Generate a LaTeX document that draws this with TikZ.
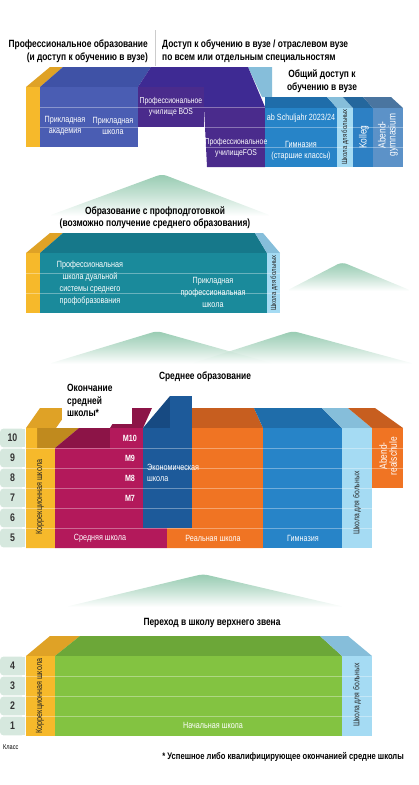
\documentclass[tikz,border=0pt]{standalone}
\usepackage{fontspec}
\setmainfont{Liberation Sans}[FakeStretch=0.8]

\definecolor{gelb}{HTML}{F6B92B}
\definecolor{gelbtop}{HTML}{DFA226}
\definecolor{gelbdark}{HTML}{C08A1E}
\definecolor{fachblau}{HTML}{4A5DB3}
\definecolor{fachtop}{HTML}{3F52A6}
\definecolor{lila}{HTML}{4A2B8C}
\definecolor{lilatop}{HTML}{3E2A93}
\definecolor{gymblau}{HTML}{2784C8}
\definecolor{gymtop}{HTML}{1F6DAA}
\definecolor{hellblau}{HTML}{A5DBF3}
\definecolor{hellblautop}{HTML}{86BEDA}
\definecolor{kollegc}{HTML}{2D80C4}
\definecolor{abendgymc}{HTML}{5C92C8}
\definecolor{petrol}{HTML}{1A8A9B}
\definecolor{petroltop}{HTML}{16788A}
\definecolor{mittel}{HTML}{B3195B}
\definecolor{mitteltop}{HTML}{8C1447}
\definecolor{wirt}{HTML}{1D5A9A}
\definecolor{wirttop}{HTML}{174A82}
\definecolor{real}{HTML}{F07423}
\definecolor{realtop}{HTML}{C75E1F}
\definecolor{gruen}{HTML}{83C341}
\definecolor{gruentop}{HTML}{6CA738}
\definecolor{tabc}{HTML}{D6E8DE}
\definecolor{bergc}{HTML}{7DBE9E}

\tikzset{
  lbl/.style={text=white, font=\fontsize{9}{10.5}\selectfont, align=center, inner sep=0pt},
  hdr/.style={font=\fontsize{10.5}{12.5}\selectfont\bfseries, align=center, inner sep=0pt},
  vlbl/.style={rotate=90, text=black!85, font=\fontsize{8.5}{10}\selectfont, inner sep=0pt},
  vwhite/.style={rotate=90, text=white, font=\fontsize{10.5}{10}\selectfont, align=center, inner sep=0pt},
  mlbl/.style={text=white, font=\fontsize{9}{10}\selectfont\bfseries, inner sep=0pt},
  rowline/.style={white, opacity=0.35, line width=0.6pt},
  gradenum/.style={text=black!80, font=\fontsize{11}{12}\selectfont\bfseries, inner sep=0pt},
  berg/.style={top color=bergc, bottom color=white, middle color=bergc!55, rounded corners=5pt, opacity=0.8},
}

\newcommand{\gradetab}[3]{%
  \fill[tabc, rounded corners=3.5pt] (0,#2+0.6) rectangle (25,#2+19.4);
  \fill[tabc] (15,#2+0.6) rectangle (25,#2+19.4);
  \node[gradenum] (#1) at (12.5,#2+10) {#3};
}

\begin{document}
\begin{tikzpicture}[x=1pt, y=-1pt]
    \useasboundingbox (0,0) rectangle (418,785);

    % headers
    \node[hdr, anchor=east, align=right] (proftitle) at (148,51) {Профессиональное образование\\(и доступ к обучению в вузе)};
    \draw[black!20] (155,30) -- (155,66);
    \node[hdr, anchor=west, align=left] (hstitle) at (162,51) {Доступ к обучению в вузе / отраслевом вузе\\по всем или отдельным специальностям};

    % upper level
    \fill[hellblautop] (248,67) -- (272,67) -- (272,97) -- (262,97) -- cycle;
    \fill[gelbtop] (26,87) -- (50,67) -- (63,67) -- (40,87) -- cycle;
    \fill[fachtop] (40,87) -- (63,67) -- (151,67) -- (138,87) -- cycle;
    \fill[lilatop] (138,87) -- (151,67) -- (248,67) -- (265,107) -- (204,107) -- (204,87) -- cycle;
    \fill[gelb] (26,87) rectangle (40,147);
    \fill[fachblau] (40,87) rectangle (138,147);
    \fill[lila] (138,87) rectangle (204,127);
    \fill[lila] (204,107) -- (265,107) -- (265,167) -- (207,167) -- cycle;
    \fill[gymtop] (265,97) -- (327,97) -- (337,108) -- (265,108) -- cycle;
    \fill[hellblautop] (327,97) -- (343,97) -- (353,108) -- (337,108) -- cycle;
    \fill[kollegc!80!black] (343,97) -- (363,97) -- (373,108) -- (353,108) -- cycle;
    \fill[abendgymc!80!black] (363,97) -- (391,97) -- (403,108) -- (373,108) -- cycle;
    \fill[gymblau] (265,108) rectangle (337,167);
    \fill[hellblau] (337,108) rectangle (353,167);
    \fill[kollegc] (353,108) rectangle (373,167);
    \fill[abendgymc] (373,108) rectangle (403,167);
    \draw[rowline] (40,107) -- (265,107);
    \draw[rowline] (40,127) -- (403,127);
    \draw[rowline] (204,147) -- (403,147);

    \node[lbl] (fachakad) at (65,126) {Прикладная\\академия};
    \node[lbl] (fachschule) at (113,126) {Прикладная\\школа};
    \node[lbl, font=\fontsize{8.5}{10.5}\selectfont] (bos) at (171,107) {Профессиональное\\училище BOS};
    \node[lbl, font=\fontsize{8.5}{10.5}\selectfont] (fos) at (236,148) {Профессиональное\\училищеFOS};
    \node[lbl] (abjahr) at (301,118) {ab Schuljahr 2023/24};
    \node[lbl] (gymoben) at (301,151) {Гимназия\\(старшие классы)};
    \node[vlbl, font=\fontsize{7.5}{9}\selectfont] (krankoben) at (345,137) {Школа для больных};
    \node[vwhite] (kolleg) at (364,137) {Kolleg};
    \node[vwhite] (abendgym) at (388,135) {Abend-\\gymnasium};
    \node[hdr] (allgzugang) at (322,81) {Общий доступ к\\обучению в вузе};

    % vocational level
    \shade[berg] (48,216) -- (162,174) -- (272,216) -- cycle;
    \node[hdr] (berufsbild) at (155,217.5) {Образование с профподготовкой\\(возможно получение среднего образования)};
    \fill[gelbtop] (26,253) -- (50,233) -- (63,233) -- (40,253) -- cycle;
    \fill[petroltop] (40,253) -- (63,233) -- (255,233) -- (267,253) -- cycle;
    \fill[hellblautop] (267,253) -- (255,233) -- (263,233) -- (280,253) -- cycle;
    \fill[gelb] (26,253) rectangle (40,313);
    \fill[petrol] (40,253) rectangle (267,313);
    \fill[hellblau] (267,253) rectangle (280,313);
    \draw[rowline] (26,273) -- (280,273);
    \draw[rowline] (26,293) -- (280,293);
    \node[lbl, font=\fontsize{9}{12}\selectfont] (dual) at (90,283.5) {Профессиональная\\школа дуальной\\системы среднего\\профобразования};
    \node[lbl, font=\fontsize{9}{12}\selectfont] (berufsfach) at (213,292) {Прикладная\\профессиональная\\школа};
    \node[vlbl, font=\fontsize{7.5}{9}\selectfont] (krankmitte) at (274,283) {Школа для больных};
    \shade[berg] (286,291) -- (342,262) -- (412,291) -- cycle;

    % secondary level
    \shade[berg] (48,364) -- (157,331) -- (275,364) -- cycle;
    \shade[berg] (190,364) -- (293,331) -- (415,364) -- cycle;
    \node[hdr] (sektitle) at (205,377) {Среднее образование};

    \fill[gelbtop] (26,428) -- (40,408) -- (70,408) -- (56,428) -- cycle;
    \fill[gelbdark] (37,448) -- (55,448) -- (79,428) -- (37,428) -- cycle;
    \fill[mitteltop] (55,448) -- (79,428) -- (110,428) -- (110,448) -- cycle;
    \fill[mitteltop] (110,428) -- (122,408) -- (152,408) -- (143,428) -- cycle;
    \fill[realtop] (192,428) -- (192,408) -- (254,408) -- (263,428) -- cycle;
    \fill[gymtop] (263,428) -- (254,408) -- (322,408) -- (342,428) -- cycle;
    \fill[hellblautop] (342,428) -- (322,408) -- (348,408) -- (372,428) -- cycle;
    \fill[realtop] (372,428) -- (348,408) -- (375,408) -- (403,428) -- cycle;
    \fill[wirttop] (143,428) -- (170,396) -- (170,428) -- cycle;
    \fill[wirt] (170,396) rectangle (192,428);
    \fill[white] (62,383) rectangle (132,424);
    \node[hdr, anchor=north west, align=left] (abschluss) at (67,384) {Окончание\\средней\\школы*};

    \fill[gelb] (26,428) -- (37,428) -- (37,448) -- (55,448) -- (55,548) -- (26,548) -- cycle;
    \fill[mittel] (55,448) -- (110,448) -- (110,428) -- (143,428) -- (143,528) -- (167,528) -- (167,548) -- (55,548) -- cycle;
    \fill[wirt] (143,428) rectangle (192,528);
    \fill[real] (192,428) -- (263,428) -- (263,548) -- (167,548) -- (167,528) -- (192,528) -- cycle;
    \fill[gymblau] (263,428) rectangle (342,548);
    \fill[hellblau] (342,428) rectangle (372,548);
    \fill[real] (372,428) rectangle (403,488);
    \foreach \y in {448,468,488,508,528}
        \draw[rowline] (26,\y) -- (372,\y);
    \draw[rowline] (372,448) -- (403,448);
    \draw[rowline] (372,468) -- (403,468);

    \node[mlbl] (m10) at (130,438) {M10};
    \node[mlbl] (m9) at (130,458) {M9};
    \node[mlbl] (m8) at (130,478) {M8};
    \node[mlbl] (m7) at (130,498) {M7};
    \node[lbl, align=left, anchor=west] (wirtschaft) at (147,473) {Экономическая\\школа};
    \node[lbl] (mittelschule) at (100,538) {Средняя школа};
    \node[lbl] (realschule) at (213,538) {Реальная школа};
    \node[lbl] (gymmitte) at (303,538) {Гимназия};
    \node[vlbl, font=\fontsize{9}{10}\selectfont] (foerdermitte) at (40,497) {Коррекционная школа};
    \node[vlbl] (krankunten) at (357,503) {Школа для больных};
    \node[vwhite] (abendreal) at (388,456) {Abend-\\realschule};
    \gradetab{g10}{428}{10}
    \gradetab{g9}{448}{9}
    \gradetab{g8}{468}{8}
    \gradetab{g7}{488}{7}
    \gradetab{g6}{508}{6}
    \gradetab{g5}{528}{5}

    % primary level
    \shade[berg] (65,607) -- (203,574) -- (345,607) -- cycle;
    \node[hdr] (uebertritt) at (212,623) {Переход в школу верхнего звена};
    \fill[gelbtop] (26,656) -- (50,636) -- (80,636) -- (55,656) -- cycle;
    \fill[gruentop] (55,656) -- (80,636) -- (320,636) -- (342,656) -- cycle;
    \fill[hellblautop] (342,656) -- (320,636) -- (348,636) -- (372,656) -- cycle;
    \fill[gelb] (26,656) rectangle (55,736);
    \fill[gruen] (55,656) rectangle (342,736);
    \fill[hellblau] (342,656) rectangle (372,736);
    \foreach \y in {676,696,716}
        \draw[rowline] (26,\y) -- (372,\y);
    \node[lbl] (grundschule) at (213,725) {Начальная школа};
    \node[vlbl, font=\fontsize{9}{10}\selectfont] (foerderunten) at (40,696) {Коррекционная школа};
    \node[vlbl] (krankgrund) at (357,695) {Школа для больных};
    \gradetab{g4}{656}{4}
    \gradetab{g3}{676}{3}
    \gradetab{g2}{696}{2}
    \gradetab{g1}{716}{1}

    \node[anchor=west, inner sep=0pt, font=\fontsize{7}{8}\selectfont] (klasse) at (3,747) {Класс};
    \node[anchor=east, inner sep=0pt, font=\fontsize{9.5}{10}\selectfont\bfseries] (fussnote) at (404,757) {* Успешное либо квалифицирующее окончанией средне школы};
\end{tikzpicture}
\end{document}
